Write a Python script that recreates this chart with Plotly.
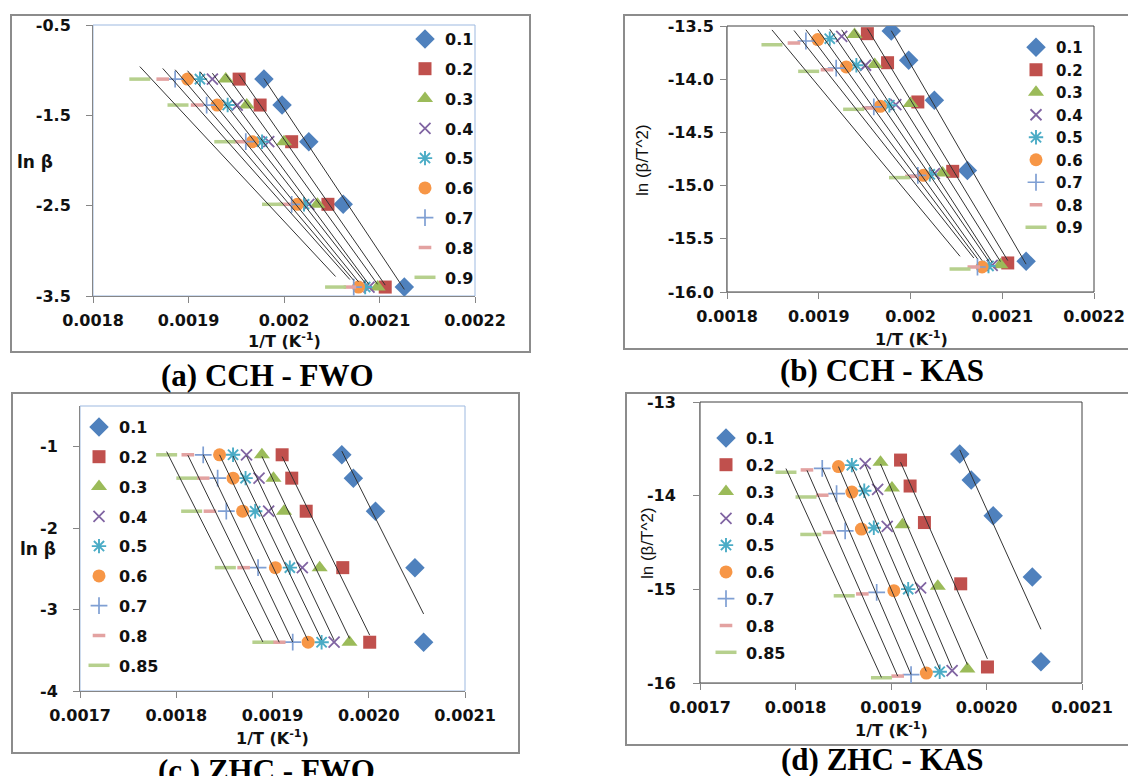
import numpy as np
import plotly.graph_objects as go

# ---------------- data ----------------
conv_cch = ["0.1", "0.2", "0.3", "0.4", "0.5", "0.6", "0.7", "0.8", "0.9"]
conv_zhc = ["0.1", "0.2", "0.3", "0.4", "0.5", "0.6", "0.7", "0.8", "0.85"]

# ln(beta) for the five heating rates (20, 15, 10, 5, 2 K/min)
ln_beta = [-1.099, -1.386, -1.792, -2.485, -3.401]

# CCH : 1/T (K^-1) at each heating rate, one row per conversion
cch_invT = [
    [0.001979, 0.001998, 0.002026, 0.002062, 0.002126],
    [0.001953, 0.001975, 0.002008, 0.002046, 0.002106],
    [0.001939, 0.001961, 0.002000, 0.002035, 0.002098],
    [0.001925, 0.001951, 0.001984, 0.002026, 0.002089],
    [0.001912, 0.001941, 0.001977, 0.002021, 0.002085],
    [0.001899, 0.001930, 0.001967, 0.002014, 0.002078],
    [0.001886, 0.001919, 0.001960, 0.002008, 0.002073],
    [0.001873, 0.001909, 0.001954, 0.002001, 0.002069],
    [0.001849, 0.001889, 0.001938, 0.001988, 0.002054],
]
# CCH : ln(beta/T^2)
cch_kas = [
    [-13.547, -13.823, -14.199, -14.857, -15.712],
    [-13.572, -13.845, -14.214, -14.866, -15.727],
    [-13.581, -13.863, -14.229, -14.882, -15.743],
    [-13.597, -13.869, -14.239, -14.888, -15.749],
    [-13.619, -13.869, -14.245, -14.894, -15.755],
    [-13.628, -13.885, -14.255, -14.903, -15.765],
    [-13.641, -13.895, -14.261, -14.903, -15.765],
    [-13.660, -13.911, -14.271, -14.913, -15.765],
    [-13.676, -13.926, -14.283, -14.925, -15.784],
]
# ZHC : 1/T (K^-1)
zhc_invT = [
    [0.001972, 0.001984, 0.002007, 0.002048, 0.002057],
    [0.001910, 0.001920, 0.001935, 0.001973, 0.002001],
    [0.001889, 0.001901, 0.001912, 0.001949, 0.001980],
    [0.001873, 0.001886, 0.001896, 0.001931, 0.001964],
    [0.001859, 0.001872, 0.001882, 0.001918, 0.001951],
    [0.001845, 0.001859, 0.001869, 0.001903, 0.001937],
    [0.001828, 0.001843, 0.001852, 0.001885, 0.001921],
    [0.001812, 0.001828, 0.001835, 0.001870, 0.001907],
    [0.001790, 0.001811, 0.001816, 0.001851, 0.001890],
]
# ZHC : ln(beta/T^2)
zhc_kas = [
    [-13.556, -13.832, -14.214, -14.867, -15.774],
    [-13.620, -13.897, -14.287, -14.941, -15.829],
    [-13.642, -13.917, -14.311, -14.966, -15.851],
    [-13.659, -13.933, -14.328, -14.984, -15.867],
    [-13.674, -13.948, -14.343, -14.998, -15.880],
    [-13.689, -13.962, -14.357, -15.014, -15.894],
    [-13.708, -13.979, -14.375, -15.033, -15.911],
    [-13.725, -13.995, -14.393, -15.049, -15.926],
    [-13.750, -14.014, -14.414, -15.069, -15.944],
]

# tick values / labels
xt_cch = [0.0018, 0.0019, 0.0020, 0.0021, 0.0022]
xt_cch_txt = ["0.0018", "0.0019", "0.002", "0.0021", "0.0022"]
xt_zhc = [0.0017, 0.0018, 0.0019, 0.0020, 0.0021]
xt_zhc_txt = ["0.0017", "0.0018", "0.0019", "0.0020", "0.0021"]
yt_a = [-0.5, -1.5, -2.5, -3.5]
yt_a_txt = ["-0.5", "-1.5", "-2.5", "-3.5"]
yt_b = [-13.5, -14.0, -14.5, -15.0, -15.5, -16.0]
yt_b_txt = ["-13.5", "-14.0", "-14.5", "-15.0", "-15.5", "-16.0"]
yt_c = [-1, -2, -3, -4]
yt_c_txt = ["-1", "-2", "-3", "-4"]
yt_d = [-13, -14, -15, -16]
yt_d_txt = ["-13", "-14", "-15", "-16"]

captions = ["(a) CCH - FWO", "(b) CCH - KAS", "(c ) ZHC - FWO", "(d) ZHC - KAS"]

# ---------------- styles ----------------
W, H = 1128, 776
def fx(p):
    return p / W
def fy(p):
    return 1 - p / H

STYLES = [
    dict(symbol="diamond", size=15, color="#4F81BD", lw=0),
    dict(symbol="square", size=13, color="#C0504D", lw=0),
    dict(symbol="triangle-up", size=14, color="#9BBB59", lw=0),
    dict(symbol="x-thin", size=11, color="#8064A2", lw=1.8),
    dict(symbol="asterisk", size=12, color="#4BACC6", lw=1.9),
    dict(symbol="circle", size=13, color="#F79646", lw=0),
    dict(symbol="cross-thin", size=12, color="#7F9FD3", lw=1.7),
    dict(symbol="line-ew", size=9, color="#E3A2A1", lw=3.5),
    dict(symbol="line-ew", size=15, color="#B6D08D", lw=3.5),
]
TICKFONT = dict(family="DejaVu Sans", size=16, color="#111111", weight="bold")
AXIS_GRAY = "#868686"
FIT_COLOR = "#333333"

fig = go.Figure()


def add_panel(suffix, xs_rows, ys_rows, names, legend_name):
    xa = "x" + suffix
    ya = "y" + suffix
    for i, (xs, ys) in enumerate(zip(xs_rows, ys_rows)):
        st = STYLES[i]
        fig.add_trace(go.Scatter(
            x=xs, y=ys, mode="markers", name=names[i],
            xaxis=xa, yaxis=ya, legend=legend_name,
            legendgroup=f"{legend_name}_{i}",
            marker=dict(symbol=st["symbol"], size=st["size"], color=st["color"],
                        line=dict(color=st["color"], width=st["lw"])),
        ))
    for xs, ys in zip(xs_rows, ys_rows):
        slope, icpt = np.polyfit(np.array(xs), np.array(ys), 1)
        xr = np.array([min(xs), max(xs)])
        fig.add_trace(go.Scatter(
            x=xr, y=slope * xr + icpt, mode="lines", showlegend=False,
            xaxis=xa, yaxis=ya, hoverinfo="skip",
            line=dict(color=FIT_COLOR, width=1),
        ))


add_panel("", cch_invT, [ln_beta] * len(cch_invT), conv_cch, "legend")
add_panel("2", cch_invT, cch_kas, conv_cch, "legend2")
add_panel("3", zhc_invT, [ln_beta] * len(zhc_invT), conv_zhc, "legend3")
add_panel("4", zhc_invT, zhc_kas, conv_zhc, "legend4")


def xaxis(domain, rng, tv, tt, anchor):
    return dict(domain=domain, range=rng, tickvals=tv, ticktext=tt, anchor=anchor,
                ticks="outside", ticklen=6, tickcolor=AXIS_GRAY, showline=True,
                linecolor=AXIS_GRAY, linewidth=1, showgrid=False, zeroline=False,
                tickfont=TICKFONT, ticklabelstandoff=4, fixedrange=True,
                automargin=False)


def yaxis(domain, rng, tv, tt, anchor, standoff):
    return dict(domain=domain, range=rng, tickvals=tv, ticktext=tt, anchor=anchor,
                ticks="outside", ticklen=6, tickcolor=AXIS_GRAY, showline=True,
                linecolor=AXIS_GRAY, linewidth=1, showgrid=False, zeroline=False,
                tickfont=TICKFONT, ticklabelstandoff=standoff, fixedrange=True,
                automargin=False)


# plot-area pixel boxes (left, top, right, bottom)
PA = (93, 25, 475, 296)
PB = (727, 26, 1094, 292)
PC = (80, 406, 465, 691)
PD = (700, 402, 1082, 683)


def dom(box):
    l, t, r, b = box
    return [fx(l), fx(r)], [fy(b), fy(t)]


da, db, dc, dd = dom(PA), dom(PB), dom(PC), dom(PD)

layout = dict(
    width=W, height=H, autosize=False,
    margin=dict(l=0, r=0, t=0, b=0, pad=0, autoexpand=False),
    paper_bgcolor="white", plot_bgcolor="white",
    xaxis=xaxis(da[0], [0.0018, 0.0022], xt_cch, xt_cch_txt, "y"),
    yaxis=yaxis(da[1], [-3.5, -0.5], yt_a, yt_a_txt, "x", 12),
    xaxis2=xaxis(db[0], [0.0018, 0.0022], xt_cch, xt_cch_txt, "y2"),
    yaxis2=yaxis(db[1], [-16.0, -13.5], yt_b, yt_b_txt, "x2", 3),
    xaxis3=xaxis(dc[0], [0.0017, 0.0021], xt_zhc, xt_zhc_txt, "y3"),
    yaxis3=yaxis(dc[1], [-4, -0.5], yt_c, yt_c_txt, "x3", 12),
    xaxis4=xaxis(dd[0], [0.0017, 0.0021], xt_zhc, xt_zhc_txt, "y4"),
    yaxis4=yaxis(dd[1], [-16, -13], yt_d, yt_d_txt, "x4", 14),
    showlegend=True,
)


def legend(x, y, gap, size=16):
    return dict(x=fx(x), y=fy(y), xanchor="left", yanchor="top",
                traceorder="grouped", tracegroupgap=gap,
                font=dict(family="DejaVu Sans", size=size, color="#111111", weight="bold"),
                bgcolor="rgba(0,0,0,0)", itemsizing="trace", itemclick=False)


layout["legend"] = legend(405, 22, 6)
layout["legend2"] = legend(1016, 31, 0, 15)
layout["legend3"] = legend(79, 410, 6)
layout["legend4"] = legend(706, 421, 3)

fig.update_layout(**layout)

# panel boxes
boxes = [(11, 15, 530, 352), (624, 15, 1140, 349), (12, 393, 519, 753), (626, 393, 1140, 745)]
for l, t, r, b in boxes:
    fig.add_shape(type="rect", xref="paper", yref="paper",
                  x0=fx(l), x1=fx(r), y0=fy(b), y1=fy(t),
                  line=dict(color="#8C8C8C", width=2), fillcolor="rgba(0,0,0,0)")

# plot-area borders
for suf, col in [("", "#9DB9E0"), ("2", "#404040"), ("3", "#9DB9E0"), ("4", "#404040")]:
    fig.add_shape(type="rect", xref=f"x{suf} domain", yref=f"y{suf} domain",
                  x0=0, x1=1, y0=0, y1=1, line=dict(color=col, width=1), layer="below")

# axis titles and captions
ann = []
XT = "1/T (K<sup>-1</sup>)"
bold = dict(family="DejaVu Sans", size=16, color="#111111", weight="bold")
ann.append(dict(text="ln β", x=fx(35), y=fy(162), font=dict(bold, size=17)))
ann.append(dict(text=XT, x=fx(284), y=fy(340), font=bold))
ann.append(dict(text="ln (β/T^2)", x=fx(643), y=fy(160), textangle=-90,
                font=dict(family="Liberation Sans", size=17, color="#111111")))
ann.append(dict(text=XT, x=fx(911), y=fy(338), font=bold))
ann.append(dict(text="ln β", x=fx(38), y=fy(549), font=dict(bold, size=17)))
ann.append(dict(text=XT, x=fx(272), y=fy(737), font=bold))
ann.append(dict(text="ln (β/T^2)", x=fx(647), y=fy(543), textangle=-90,
                font=dict(family="Liberation Sans", size=17, color="#111111")))
ann.append(dict(text=XT, x=fx(891), y=fy(729), font=bold))

capfont = dict(family="Liberation Serif", size=31, color="black", weight="bold")
for txt, (cx, cy) in zip(captions, [(267, 375), (882, 370), (266, 770), (882, 759)]):
    ann.append(dict(text=txt, x=fx(cx), y=fy(cy), font=capfont))

for a in ann:
    a.update(xref="paper", yref="paper", showarrow=False, xanchor="center", yanchor="middle")
    fig.add_annotation(**a)

fig.write_html("out.html")
